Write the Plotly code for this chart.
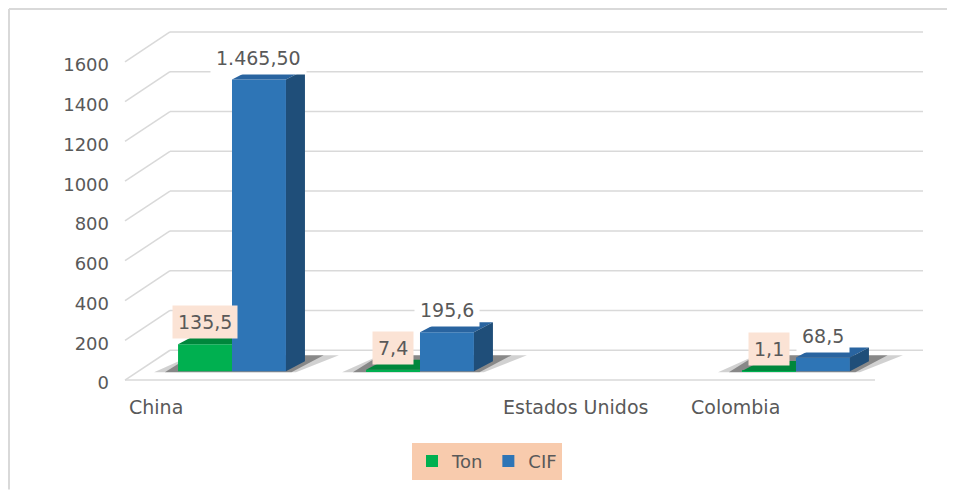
import plotly.graph_objects as go

# ---- data ----
categories = ["China", "", "Estados Unidos", "Colombia"]
ton = [135.5, 7.4, None, 1.1]
cif = [1465.5, 195.6, None, 68.5]
ton_labels = ["135,5", "7,4", "", "1,1"]
cif_labels = ["1.465,50", "195,6", "", "68,5"]
y_ticks = [0, 200, 400, 600, 800, 1000, 1200, 1400, 1600]

# ---- style ----
GREEN, GREEN_TOP = "#00B050", "#00873C"
BLUE, BLUE_TOP, BLUE_SIDE = "#2E75B6", "#2964A0", "#1F4E79"
TXT = "#595959"
FONT = "DejaVu Sans"

PAGE = 8                      # browser body margin
W, H = 955 - PAGE, 492 - PAGE
SX0, SX1, SY0, SY1 = 110, 930, 20, 400
L, R, T, B = SX0 - PAGE, W - (SX1 - PAGE), SY0 - PAGE, H - (SY1 - PAGE)
PW, PH = SX1 - SX0, SY1 - SY0
XR = [-0.649, 3.713]
YR = [-135, 1765]
upx = (YR[1] - YR[0]) / PH
xpx = (XR[1] - XR[0]) / PW

def px_x(p):
    return (p - SX0) / PW

def px_y(p):
    return (SY1 - p) / PH

gap = 0.426
bw = (1 - gap) / 2
dx = 19 * xpx
dy = 10 * upx

fig = go.Figure()
idx = list(range(len(categories)))
fig.add_trace(go.Bar(x=idx, y=ton, name="Ton", marker=dict(color=GREEN, line=dict(width=0)),
                     hoverinfo="skip"))
fig.add_trace(go.Bar(x=idx, y=cif, name="CIF", marker=dict(color=BLUE, line=dict(width=0)),
                     hoverinfo="skip"))

shapes = []
# floor shadows (below traces)
for i in idx:
    if cif[i] is None:
        continue
    gl, br = i - bw, i + bw
    for grow, alpha in ((1.0, 0.18), (0.55, 0.35)):
        pts = [(gl - 24 * grow * xpx, -1 * upx), (br + 10 * grow * xpx, -1 * upx),
               (br + dx + 34 * grow * xpx, dy + 6 * upx), (gl + 14 * xpx, dy + 6 * upx)]
        path = "M " + " L ".join(f"{a},{b}" for a, b in pts) + " Z"
        shapes.append(dict(type="path", xref="x", yref="y", path=path,
                           fillcolor=f"rgba(0,0,0,{alpha})", line=dict(width=0), layer="below"))

# 3D faces
for i in idx:
    if ton[i] is not None:
        v = ton[i]
        xl, xr = i - bw, i
        fig.add_trace(go.Scatter(x=[xl, xl + dx, xr, xr, xl], y=[v, v + dy, v + dy, v, v],
                                 fill="toself", fillcolor=GREEN_TOP, mode="lines",
                                 line=dict(width=0), showlegend=False, hoverinfo="skip"))
    if cif[i] is not None:
        v = cif[i]
        xl, xr = i, i + bw
        fig.add_trace(go.Scatter(x=[xl, xl + dx, xr + dx, xr, xl], y=[v, v + dy, v + dy, v, v],
                                 fill="toself", fillcolor=BLUE_TOP, mode="lines",
                                 line=dict(width=0), showlegend=False, hoverinfo="skip"))
        fig.add_trace(go.Scatter(x=[xr, xr + dx, xr + dx, xr, xr], y=[0, dy, v + dy, v, 0],
                                 fill="toself", fillcolor=BLUE_SIDE, mode="lines",
                                 line=dict(width=0), showlegend=False, hoverinfo="skip"))

# grid / floor
back_off = 21 * upx
front_off = -9 * upx
grid = dict(color="#D9D9D9", width=1.5)
for v in y_ticks:
    shapes.append(dict(type="line", xref="paper", yref="y", x0=px_x(170), x1=px_x(923),
                       y0=v + back_off, y1=v + back_off, line=grid, layer="below"))
    shapes.append(dict(type="line", xref="paper", yref="y", x0=px_x(125), x1=px_x(170),
                       y0=v + front_off, y1=v + back_off, line=grid, layer="below"))
shapes.append(dict(type="line", xref="paper", yref="y", x0=px_x(125), x1=px_x(875),
                   y0=front_off, y1=front_off, line=grid, layer="below"))
# outer frame (top and left edges)
frame = dict(color="#D9D9D9", width=2)
shapes.append(dict(type="line", xref="paper", yref="paper", x0=px_x(9), x1=px_x(955),
                   y0=px_y(9), y1=px_y(9), line=frame, layer="below"))
shapes.append(dict(type="line", xref="paper", yref="paper", x0=px_x(9), x1=px_x(9),
                   y0=px_y(9), y1=px_y(492), line=frame, layer="below"))

annotations = []
for i in idx:
    if ton[i] is not None:
        annotations.append(dict(x=i - bw / 2, y=ton[i], xref="x", yref="y", text=ton_labels[i],
                                showarrow=False, yshift=22, bgcolor="#FBE3D5",
                                font=dict(family=FONT, size=19, color=TXT), borderpad=5))
    if cif[i] is not None:
        annotations.append(dict(x=i + bw / 2, y=cif[i], xref="x", yref="y", text=cif_labels[i],
                                showarrow=False, yshift=22, bgcolor="#FFFFFF",
                                font=dict(family=FONT, size=19, color=TXT), borderpad=5))

label_px = {0: (127, "left"), 2: (575, "center"), 3: (735, "center")}
for i, (p, anc) in label_px.items():
    annotations.append(dict(x=px_x(p), y=px_y(409), xref="paper", yref="paper",
                            text=categories[i], showarrow=False, xanchor=anc, yanchor="middle",
                            font=dict(family=FONT, size=19, color=TXT)))

fig.update_layout(
    width=W, height=H,
    margin=dict(l=L, r=R, t=T, b=B),
    paper_bgcolor="white", plot_bgcolor="white",
    barmode="group", bargap=gap, bargroupgap=0,
    font=dict(family=FONT, size=18, color=TXT),
    xaxis=dict(range=XR, showgrid=False, zeroline=False, showticklabels=False, showline=False),
    yaxis=dict(range=YR, tickvals=y_ticks, showgrid=False, zeroline=False, showline=False,
               ticklabelshift=12, tickfont=dict(family=FONT, size=18, color=TXT)),
    legend=dict(orientation="h", x=px_x(487), xanchor="center", y=px_y(445), yanchor="top",
                bgcolor="#F8CBAD", font=dict(family=FONT, size=18, color=TXT),
                itemwidth=30, traceorder="normal"),
    shapes=shapes,
    annotations=annotations,
    showlegend=True,
)

fig.write_html("out.html")
